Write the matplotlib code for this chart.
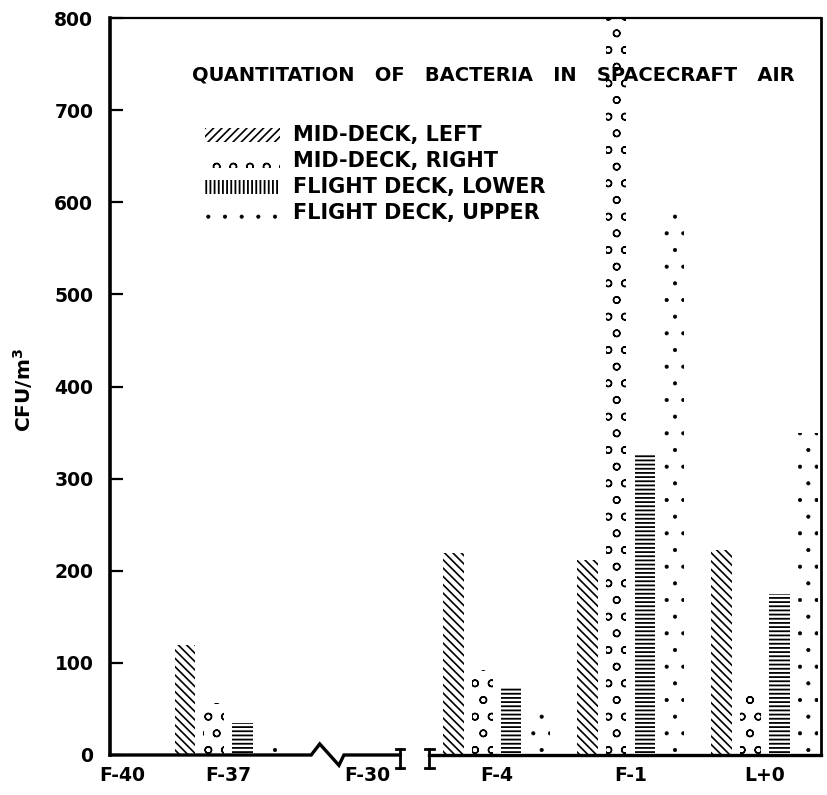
import matplotlib
matplotlib.use("Agg")
import matplotlib.pyplot as plt
import matplotlib.transforms as mtransforms
from matplotlib.patches import Rectangle

# tick labels along the (broken) time axis
categories = ["F-40", "F-37", "F-30", "F-4", "F-1", "L+0"]
# days that actually have samples
sampled = ["F-37", "F-4", "F-1", "L+0"]
series = ["MID-DECK, LEFT", "MID-DECK, RIGHT", "FLIGHT DECK, LOWER", "FLIGHT DECK, UPPER"]

# CFU/m3
mid_left = [119, 219, 212, 222]
mid_right = [56, 92, 800, 70]
flight_lower = [35, 74, 328, 175]
flight_upper = [18, 45, 592, 350]

# axis positions of the category labels (axis runs 0..100)
cat_x = [1.7, 16.6, 36.2, 54.4, 73.2, 92.1]

plt.rcParams['font.family'] = ['DejaVu Sans']
plt.rcParams['font.weight'] = 'bold'
plt.rcParams['mathtext.default'] = 'bf'

bar_hatches = ['\\\\\\\\', 'o', '----', '.']
legend_hatches = ['////', 'o', '||||', '.']
hatch_lws = [1.2, 1.0, 1.3, 0.5]
values = [mid_left, mid_right, flight_lower, flight_upper]

fig = plt.figure(figsize=(8.27, 7.95), dpi=100)
ax = fig.add_axes([110 / 827, 40 / 795, 711 / 827, 737 / 795])
ax.set_xlim(0, 100)
ax.set_ylim(0, 800)

step = 4.05
width = 2.9
for i, vals in enumerate(values):
    xs = [cat_x[categories.index(d)] + (i - 1.5) * step for d in sampled]
    with plt.rc_context({'hatch.linewidth': hatch_lws[i]}):
        ax.bar(xs, vals, width=width, facecolor='white', edgecolor='black',
               linewidth=0, hatch=bar_hatches[i], zorder=2)

# spines
ax.spines['bottom'].set_visible(False)
ax.spines['left'].set_linewidth(2.6)
ax.spines['right'].set_linewidth(2.0)
ax.spines['top'].set_linewidth(1.6)

ax.set_yticks(range(0, 801, 100))
ax.tick_params(axis='y', direction='in', length=9, width=1.6, pad=12, labelsize=13.5)
ax.set_xticks(cat_x, categories)
ax.tick_params(axis='x', length=0, pad=8, labelsize=13.5)

ax.set_ylabel(r"CFU/m$^{3}$", fontsize=14.5, fontweight='bold')
ax.yaxis.set_label_coords(-0.105, 0.495)

# broken baseline: zigzag between F-37 and F-30, gap after F-30
trans = mtransforms.blended_transform_factory(ax.transData, ax.transAxes)
lw = 2.4
ax.plot([0, 28.3, 29.5, 32.2, 32.9, 40.8], [0, 0, 0.015, -0.014, 0, 0],
        color='black', lw=lw, transform=trans, clip_on=False, zorder=3,
        solid_joinstyle='miter')
ax.plot([44.9, 100], [0, 0], color='black', lw=lw, transform=trans,
        clip_on=False, zorder=3)
for bx in [40.8, 44.9]:
    ax.plot([bx, bx], [-0.017, 0.008], color='black', lw=2.0,
            transform=trans, clip_on=False, zorder=3)
    ax.plot([bx - 0.6, bx + 0.6], [0.008, 0.008], color='black', lw=2.0,
            transform=trans, clip_on=False, zorder=3)
    ax.plot([bx - 0.6, bx + 0.6], [-0.017, -0.017], color='black', lw=2.0,
            transform=trans, clip_on=False, zorder=3)

# title and legend inside the plot
ax.text(0.115, 0.923, "QUANTITATION   OF   BACTERIA   IN   SPACECRAFT   AIR",
        transform=ax.transAxes, ha='left', va='center', fontsize=14,
        fontweight='bold', zorder=4)

rows = [0.8413, 0.806, 0.7707, 0.7354]
for i, name in enumerate(series):
    with plt.rc_context({'hatch.linewidth': hatch_lws[i]}):
        ax.add_patch(Rectangle((0.1336, rows[i] - 0.0095), 0.105, 0.019,
                               transform=ax.transAxes, facecolor='white',
                               edgecolor='black', linewidth=0,
                               hatch=legend_hatches[i], zorder=4))
    ax.text(0.2574, rows[i], name, transform=ax.transAxes, ha='left',
            va='center', fontsize=15, fontweight='bold', zorder=4)

fig.savefig("out.png", dpi=100)
